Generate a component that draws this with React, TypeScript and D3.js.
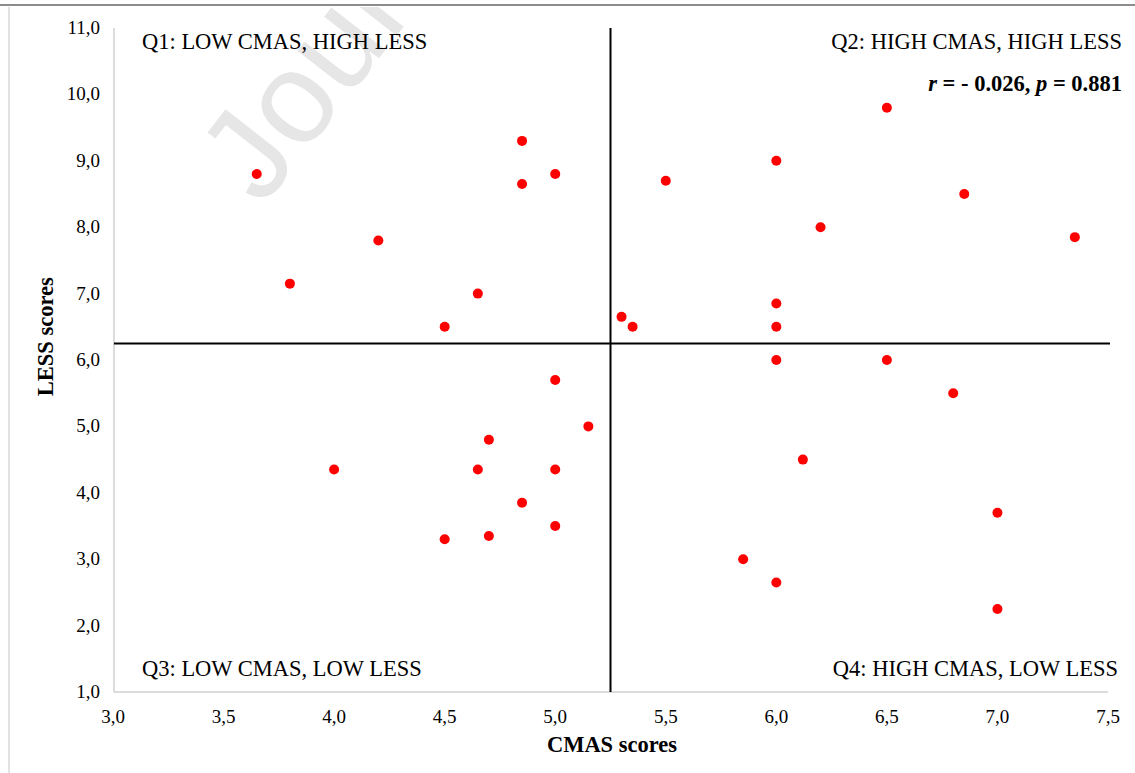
import React from "react";
import * as d3 from "d3";

const cmasScores = [
  3.65, 3.8, 4.2, 4.5, 4.65, 4.85, 4.85, 5.0,
  5.3, 5.35, 5.5, 6.0, 6.0, 6.0, 6.5, 6.2, 6.85, 7.35,
  4.0, 4.5, 4.65, 4.7, 4.7, 4.85, 5.0, 5.0, 5.0, 5.15,
  6.0, 6.5, 6.8, 6.12, 5.85, 6.0, 7.0, 7.0,
];
const lessScores = [
  8.8, 7.15, 7.8, 6.5, 7.0, 9.3, 8.65, 8.8,
  6.65, 6.5, 8.7, 9.0, 6.85, 6.5, 9.8, 8.0, 8.5, 7.85,
  4.35, 3.3, 4.35, 4.8, 3.35, 3.85, 5.7, 4.35, 3.5, 5.0,
  6.0, 6.0, 5.5, 4.5, 3.0, 2.65, 3.7, 2.25,
];
const xTicks = [3.0, 3.5, 4.0, 4.5, 5.0, 5.5, 6.0, 6.5, 7.0, 7.5];
const yTicks = [1, 2, 3, 4, 5, 6, 7, 8, 9, 10, 11];
const xSplit = 5.25;
const ySplit = 6.25;
const quadrantLabels = [
  "Q1: LOW CMAS, HIGH LESS",
  "Q2: HIGH CMAS, HIGH LESS",
  "Q3: LOW CMAS, LOW LESS",
  "Q4: HIGH CMAS, LOW LESS",
];

const fmt = (v: number) => v.toFixed(1).replace(".", ",");

export default function App() {
  const W = 1135;
  const H = 773;
  const x = d3.scaleLinear().domain([3, 7.5]).range([113, 1108]);
  const y = d3.scaleLinear().domain([1, 11]).range([692, 28]);
  const font = "'Liberation Serif', 'Times New Roman', serif";
  const pts = cmasScores.map((c, i) => ({ c, l: lessScores[i] }));
  const qs = 22.5;
  return (
    <svg
      width={W}
      height={H}
      style={{ position: "absolute", left: 0, top: 0, display: "block", background: "#fff" }}
      fontFamily={font}
    >
      <defs>
        <clipPath id="pageclip">
          <rect x={0} y={7} width={W} height={H - 7} />
        </clipPath>
      </defs>
      <rect x={0} y={0} width={W} height={H} fill="#fff" />
      {/* page rule and chart frame */}
      <line x1={0} x2={W} y1={5} y2={5} stroke="#8c8c8c" strokeWidth={2} />
      <line x1={9} x2={9} y1={7} y2={H} stroke="#d9d9d9" strokeWidth={1.5} />
      {/* watermark */}
      <g clipPath="url(#pageclip)">
        <text
          x={262}
          y={208}
          transform="rotate(-52 262 208)"
          fontFamily="'Liberation Sans', Arial, sans-serif"
          fontSize={130}
          fill="#e6e6e6"
        >
          Journal
        </text>
      </g>
      {/* axes lines */}
      <line x1={x(3) + 1} x2={x(3) + 1} y1={y(11)} y2={y(1)} stroke="#d0d0d0" strokeWidth={1.5} />
      <line x1={x(3) + 1} x2={x(7.5)} y1={y(1)} y2={y(1)} stroke="#d0d0d0" strokeWidth={1.5} />
      {/* y tick labels */}
      {yTicks.map((t) => (
        <text key={"y" + t} x={100} y={y(t) + 6} textAnchor="end" fontSize={19} fill="#000">
          {fmt(t)}
        </text>
      ))}
      {/* x tick labels */}
      {xTicks.map((t) => (
        <text key={"x" + t} x={x(t)} y={723} textAnchor="middle" fontSize={19} fill="#000">
          {fmt(t)}
        </text>
      ))}
      {/* quadrant split lines */}
      <line x1={x(xSplit)} x2={x(xSplit)} y1={y(11)} y2={y(1)} stroke="#000" strokeWidth={2} />
      <line x1={x(3) + 1} x2={x(7.5) + 2} y1={y(ySplit)} y2={y(ySplit)} stroke="#000" strokeWidth={2} />
      {/* points */}
      {pts.map((p, i) => (
        <circle key={i} cx={x(p.c)} cy={y(p.l)} r={5} fill="#ff0000" />
      ))}
      {/* quadrant labels */}
      <text x={142} y={49} fontSize={qs} fill="#000">{quadrantLabels[0]}</text>
      <text x={1122} y={49} fontSize={qs} textAnchor="end" fill="#000">{quadrantLabels[1]}</text>
      <text x={142} y={676} fontSize={qs} fill="#000">{quadrantLabels[2]}</text>
      <text x={1118} y={676} fontSize={qs} textAnchor="end" fill="#000">{quadrantLabels[3]}</text>
      {/* correlation */}
      <text x={1122} y={91} fontSize={qs} fontWeight="bold" textAnchor="end" fill="#000">
        <tspan fontStyle="italic">r</tspan>
        <tspan> = - 0.026, </tspan>
        <tspan fontStyle="italic">p</tspan>
        <tspan> = 0.881</tspan>
      </text>
      {/* axis titles */}
      <text x={612} y={752} fontSize={22.5} fontWeight="bold" textAnchor="middle" fill="#000">
        CMAS scores
      </text>
      <text
        x={0}
        y={0}
        transform={`translate(53 ${y(6.35)}) rotate(-90)`}
        fontSize={22.5}
        fontWeight="bold"
        textAnchor="middle"
        fill="#000"
      >
        LESS scores
      </text>
    </svg>
  );
}
